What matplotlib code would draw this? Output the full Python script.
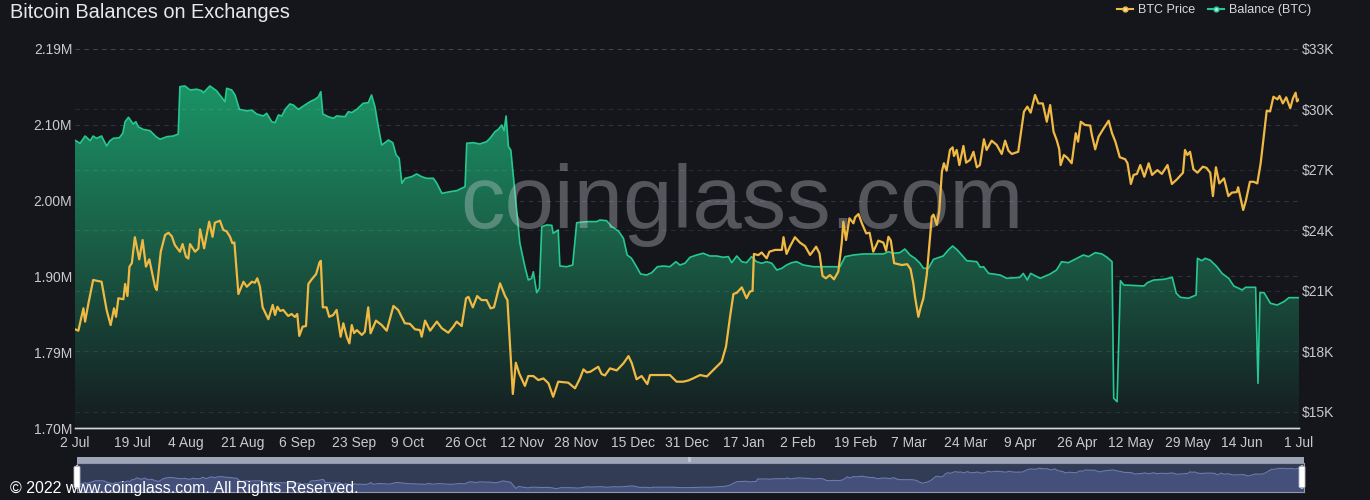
import matplotlib
matplotlib.use("Agg")
import matplotlib.pyplot as plt
import numpy as np
from matplotlib.colors import LinearSegmentedColormap
from matplotlib.lines import Line2D
from matplotlib.patches import Rectangle, FancyBboxPatch

plt.rcParams['font.family'] = ['Liberation Sans', 'DejaVu Sans']

# ---- data (day offsets from 2 Jul 2022) ----
start = np.datetime64('2022-07-02')
tick_dates = np.array(['2022-07-02', '2022-07-19', '2022-08-04', '2022-08-21', '2022-09-06',
                       '2022-09-23', '2022-10-09', '2022-10-26', '2022-11-12', '2022-11-28',
                       '2022-12-15', '2022-12-31', '2023-01-17', '2023-02-02', '2023-02-19',
                       '2023-03-07', '2023-03-24', '2023-04-09', '2023-04-26', '2023-05-12',
                       '2023-05-29', '2023-06-14', '2023-07-01'], dtype='datetime64[D]')
tick_labels = ['2 Jul', '19 Jul', '4 Aug', '21 Aug', '6 Sep', '23 Sep', '9 Oct', '26 Oct',
               '12 Nov', '28 Nov', '15 Dec', '31 Dec', '17 Jan', '2 Feb', '19 Feb', '7 Mar',
               '24 Mar', '9 Apr', '26 Apr', '12 May', '29 May', '14 Jun', '1 Jul']

bal_day = [0, 1.5, 3, 4.5, 5.4, 6.4, 7.9, 9.4, 10.4, 11.4, 13.2, 14.2, 14.9, 15.9, 17.3, 18.1,
           18.8, 20.3, 22.3, 24.1, 25.3, 27.3, 29.2, 30.7, 31.2, 32.7, 34.2, 36.2, 37.7, 38.2,
           40.1, 42.1, 44.6, 45.1, 46.6, 47.6, 48.9, 51.1, 52.6, 54.0, 56.0, 57.0, 58.5, 59.5,
           60.5, 61.5, 62.5, 63.9, 64.9, 66.4, 67.9, 69.9, 71.4, 72.4, 73.1, 73.7, 75.3, 76.8,
           77.8, 80.3, 81.3, 82.3, 83.8, 85.7, 87.2, 88.2, 89.2, 90.2, 91.2, 92.2, 93.2, 94.5,
           95.5, 96.4, 97.2, 98.2, 100.1, 101.6, 103.1, 104.6, 106.6, 107.6, 109.1, 111.5,
           113.5, 116.0, 116.5, 118.4, 120.4, 122.4, 123.4, 124.9, 125.9, 126.9, 127.6, 128.2,
           128.9, 129.6, 132.3, 133.8, 134.8, 135.8, 136.3, 137.3, 138.1, 138.8, 140.3, 141.8,
           142.2, 143.7, 144.2, 146.2, 148.0, 149.2, 152.2, 155.1, 156.1, 158.1, 159.6, 161.6,
           163.1, 164.2, 165.5, 167.0, 168.2, 170.0, 171.5, 173.2, 175.0, 176.9, 178.7, 179.9,
           181.4, 182.9, 184.9, 186.8, 188.8, 190.8, 192.8, 194.3, 195.3, 196.8, 198.3, 199.7,
           201.2, 202.7, 204.2, 205.7, 207.2, 208.7, 210.2, 211.6, 213.1, 214.6, 216.6, 219.6,
           224.5, 227.5, 229.0, 231.5, 234.4, 240.4, 241.9, 243.4, 245.3, 246.8, 248.3, 249.8,
           251.3, 252.3, 253.8, 255.3, 258.2, 259.7, 261.0, 262.4, 263.7, 265.2, 268.2, 269.2,
           270.2, 271.7, 273.1, 275.1, 277.1, 281.0, 282.0, 283.2, 284.2, 287.0, 290.0, 291.9,
           293.4, 295.4, 297.4, 298.9, 299.9, 301.4, 303.4, 305.4, 306.9, 308.4, 308.9, 309.9,
           310.9, 311.9, 317.9, 318.9, 320.8, 323.8, 326.3, 327.5, 328.7, 331.1, 333.4, 333.8,
           335.1, 336.1, 337.6, 339.6, 341.1, 343.1, 344.6, 346.1, 347.1, 348.1, 351.1, 351.8,
           352.4, 353.6, 355.5, 357.5, 359.5, 361.0, 364]
# balance in millions of BTC
bal_val = [2.072, 2.068, 2.0775, 2.0714, 2.0775, 2.0745, 2.0775, 2.0646, 2.0714, 2.0745, 2.0753,
           2.081, 2.096, 2.1017, 2.093, 2.096, 2.0895, 2.086, 2.0844, 2.0766, 2.0733, 2.0766,
           2.0775, 2.080, 2.1413, 2.1422, 2.137, 2.138, 2.136, 2.1335, 2.1422, 2.136, 2.1219,
           2.1392, 2.137, 2.1305, 2.112, 2.110, 2.111, 2.106, 2.1034, 2.1069, 2.096, 2.0947,
           2.1047, 2.1034, 2.112, 2.1189, 2.1176, 2.112, 2.1163, 2.1219, 2.125, 2.1283, 2.1348,
           2.106, 2.1025, 2.1004, 2.1034, 2.1025, 2.109, 2.1078, 2.112, 2.1198, 2.1206, 2.1305,
           2.1154, 2.0895, 2.0659, 2.0689, 2.0723, 2.0689, 2.053, 2.0487, 2.0164, 2.0228, 2.0249,
           2.0284, 2.0249, 2.0228, 2.0228, 2.0164, 2.0034, 2.0055, 2.0068, 2.012, 2.0681, 2.0689,
           2.0672, 2.0702, 2.0745, 2.0831, 2.0862, 2.0917, 2.0844, 2.1034, 2.0637, 2.0594, 1.9388,
           1.9085, 1.8913, 1.8935, 1.902, 1.8749, 1.8806, 1.9603, 1.9625, 1.962, 1.9517, 1.956,
           1.9094, 1.9085, 1.9107, 1.9654, 1.9668, 1.9668, 1.9689, 1.968, 1.9603, 1.9547, 1.9452,
           1.9237, 1.9194, 1.9085, 1.8991, 1.8978, 1.9008, 1.9085, 1.9094, 1.9085, 1.915, 1.9107,
           1.913, 1.9207, 1.9237, 1.9259, 1.9224, 1.9224, 1.9207, 1.9216, 1.9137, 1.9224, 1.915,
           1.9137, 1.9216, 1.915, 1.913, 1.915, 1.913, 1.9043, 1.9065, 1.9107, 1.9137, 1.915,
           1.9107, 1.9085, 1.9085, 1.9085, 1.9215, 1.9237, 1.925, 1.925, 1.9279, 1.9259, 1.9267,
           1.9314, 1.9237, 1.9194, 1.913, 1.9065, 1.9065, 1.9181, 1.9224, 1.9301, 1.9353, 1.9301,
           1.9237, 1.9163, 1.915, 1.9078, 1.9085, 1.8999, 1.8991, 1.8978, 1.8935, 1.8948, 1.8999,
           1.8913, 1.8999, 1.8935, 1.8991, 1.9043, 1.915, 1.9137, 1.9181, 1.9215, 1.9237, 1.9215,
           1.9267, 1.925, 1.9207, 1.915, 1.7384, 1.734, 1.8904, 1.8849, 1.8836, 1.8879, 1.8913,
           1.8922, 1.8948, 1.8742, 1.869, 1.8677, 1.8719, 1.9194, 1.9163, 1.9194, 1.917, 1.9085,
           1.8999, 1.8935, 1.8836, 1.8806, 1.8784, 1.8819, 1.8819, 1.7578, 1.875, 1.875, 1.8612,
           1.859, 1.8633, 1.8685, 1.8685]

price_day = [0, 1.0, 2.5, 3.0, 4.0, 5.4, 6.4, 7.9, 9.4, 10.6, 11.6, 12.2, 12.9, 14.4, 14.9, 15.6,
             16.2, 16.9, 17.8, 19.1, 20.1, 21.1, 22.1, 23.8, 24.3, 25.5, 26.8, 27.8, 28.8, 29.7,
             31.2, 32.0, 33.0, 33.7, 34.2, 35.7, 36.7, 37.2, 38.4, 39.9, 40.9, 41.6, 43.1, 44.1,
             45.1, 46.1, 46.8, 47.4, 48.6, 50.1, 51.1, 52.6, 53.5, 54.2, 55.0, 55.8, 57.5, 58.8,
             59.5, 60.2, 61.0, 61.9, 63.4, 64.4, 65.4, 66.1, 66.7, 67.7, 68.7, 69.4, 70.4, 71.7,
             72.7, 73.1, 73.7, 74.8, 75.6, 76.8, 77.8, 79.0, 79.8, 80.8, 81.6, 82.3, 83.0, 83.8,
             85.3, 86.2, 87.2, 87.9, 89.5, 91.2, 92.7, 94.7, 96.1, 98.1, 99.6, 101.1, 102.6,
             103.1, 104.1, 105.6, 107.6, 109.1, 111.0, 112.5, 113.5, 115.0, 116.3, 117.0, 118.3,
             119.6, 120.9, 122.4, 123.6, 124.6, 126.4, 127.9, 128.6, 130.2, 131.1, 132.1, 133.8,
             134.8, 136.3, 137.8, 139.3, 140.8, 142.2, 143.7, 146.7, 148.7, 150.2, 151.2, 152.2,
             153.2, 155.6, 156.6, 157.6, 159.1, 161.1, 163.1, 164.6, 165.6, 167.0, 168.5, 170.2,
             171.0, 176.9, 178.9, 180.9, 182.4, 183.9, 185.9, 187.9, 189.3, 190.8, 192.3, 193.6,
             194.8, 195.8, 196.8, 198.3, 199.7, 200.7, 201.5, 201.9, 203.2, 204.2, 205.7, 206.5,
             208.2, 210.2, 210.7, 211.6, 212.6, 214.1, 215.6, 217.1, 218.6, 219.6, 220.4, 221.4,
             222.3, 223.3, 224.5, 225.7, 227.0, 228.0, 228.5, 229.3, 230.3, 231.5, 232.0, 233.0,
             234.0, 235.3, 236.3, 237.4, 238.9, 240.4, 241.2, 241.9, 242.6, 243.6, 245.9, 247.5,
             248.5, 249.3, 249.8, 250.8, 251.5, 252.3, 253.3, 254.8, 255.3, 256.3, 257.0, 257.8,
             258.4, 259.2, 260.2, 261.0, 261.4, 262.2, 263.0, 264.2, 265.0, 266.2, 267.2, 268.2,
             269.1, 270.3, 271.1, 272.6, 274.1, 275.6, 276.6, 277.6, 278.6, 280.5, 282.2, 283.2,
             284.2, 285.5, 286.5, 287.8, 289.0, 290.0, 291.0, 292.0, 292.7, 293.1, 294.1, 295.1,
             296.4, 297.6, 298.3, 299.1, 300.4, 301.9, 302.4, 303.4, 304.4, 305.9, 307.4, 308.4,
             309.4, 310.7, 312.3, 313.0, 314.0, 314.8, 315.8, 316.8, 318.0, 319.3, 320.3, 321.9,
             323.2, 324.9, 326.2, 327.7, 329.5, 330.1, 330.8, 331.6, 332.6, 333.8, 335.4, 336.5,
             337.6, 338.4, 339.3, 340.3, 341.7, 343.0, 344.0, 345.5, 345.9, 347.4, 348.2, 349.4,
             350.5, 351.6, 352.6, 354.4, 355.4, 356.4, 357.6, 358.2, 359.2, 360.2, 361.4, 362.2,
             363.0, 363.4, 364.0]
# BTC price in thousands of USD
price_val = [19.09, 19.02, 20.13, 19.47, 20.38, 21.54, 21.5, 21.45, 20.05, 19.30, 20.13, 19.71,
             20.63, 20.58, 21.34, 20.74, 22.20, 22.37, 23.66, 22.56, 23.52, 22.20, 22.56, 21.20,
             21.04, 22.94, 23.77, 23.88, 23.7, 23.27, 22.94, 23.32, 22.69, 22.6, 23.32, 22.94,
             23.1, 24.05, 23.11, 24.43, 23.68, 24.38, 24.48, 24.02, 23.95, 23.68, 23.36, 23.4,
             20.84, 21.45, 21.20, 21.45, 21.4, 21.62, 21.2, 20.18, 19.59, 20.30, 19.80, 20.21,
             20.0, 20.05, 19.75, 19.85, 19.70, 19.85, 18.76, 19.22, 19.25, 21.34, 21.57, 21.83,
             22.40, 22.49, 20.18, 20.18, 19.71, 19.8, 20.05, 18.72, 19.39, 18.72, 18.39, 19.30,
             18.9, 19.05, 18.81, 18.97, 20.18, 18.89, 19.52, 19.30, 19.02, 20.25, 20.05, 19.39,
             19.36, 19.09, 19.05, 18.72, 19.52, 19.02, 19.47, 19.14, 18.92, 19.22, 19.47, 19.25,
             20.63, 20.7, 20.18, 20.74, 20.54, 20.54, 20.13, 20.18, 21.37, 20.74, 20.54, 15.88,
             17.43, 16.90, 16.28, 16.77, 16.77, 16.57, 16.65, 16.41, 15.74, 16.49, 16.44, 16.16,
             16.66, 17.10, 16.95, 16.98, 17.23, 16.87, 16.8, 17.15, 17.05, 17.40, 17.76, 17.4,
             16.61, 16.77, 16.37, 16.82, 16.82, 16.49, 16.49, 16.55, 16.66, 16.82, 16.75, 16.98,
             17.23, 17.48, 18.23, 19.71, 20.84, 20.9, 21.17, 20.63, 20.96, 21.0, 22.83, 22.77,
             22.9, 22.61, 22.94, 23.03, 23.03, 23.66, 22.83, 23.19, 23.66, 23.39, 23.22, 22.78,
             23.0, 23.19, 22.86, 21.74, 21.62, 21.78, 21.57, 21.95, 23.36, 24.43, 23.52, 24.60,
             24.35, 24.65, 24.81, 24.35, 23.85, 23.88, 22.94, 23.49, 23.39, 22.99, 23.68, 23.5,
             22.37, 22.28, 22.32, 22.07, 21.37, 20.71, 19.71, 20.18, 20.63, 21.78, 24.68, 24.78,
             24.27, 24.93, 26.91, 27.33, 26.96, 27.99, 28.12, 27.69, 27.99, 27.24, 28.19, 27.36,
             27.5, 27.90, 27.13, 27.24, 28.52, 27.99, 28.45, 28.24, 27.79, 28.45, 27.95, 27.79,
             27.90, 29.89, 30.14, 29.84, 30.72, 30.30, 30.30, 29.39, 30.22, 28.90, 28.45, 28.02,
             27.24, 27.74, 27.6, 27.33, 28.82, 28.40, 29.39, 29.23, 29.2, 28.73, 28.02, 28.65,
             29.06, 29.44, 28.82, 28.40, 27.63, 27.53, 27.33, 26.30, 26.75, 26.8, 27.24, 26.66,
             27.33, 26.75, 26.99, 26.8, 27.24, 26.30, 26.53, 26.86, 27.99, 27.74, 27.9, 27.03,
             26.86, 27.16, 27.1, 26.86, 25.70, 27.13, 26.33, 26.58, 25.70, 25.87, 25.9, 26.14,
             25.01, 25.47, 26.41, 26.41, 26.33, 27.33, 29.94, 29.9, 30.63, 30.5, 30.67, 30.30,
             30.60, 30.06, 30.55, 30.83, 30.4, 30.50]

left_ticks = np.linspace(1.70, 2.19, 6)
left_labels = ['1.70M', '1.79M', '1.90M', '2.00M', '2.10M', '2.19M']
right_ticks = [15, 18, 21, 24, 27, 30, 33]

BG = '#15161c'
GREEN = '#25c98f'
YELLOW = '#f0b943'
TXT = '#c9c9ce'

W, H = 1370, 500
fig = plt.figure(figsize=(W / 100, H / 100), dpi=100, facecolor=BG)

ax1 = fig.add_axes([75 / W, 1 - 428 / H, 1224 / W, 379 / H])
ax1.set_facecolor(BG)
ax2 = ax1.twinx()

x_end = float((tick_dates[-1] - start).astype(int))
tick_pos = (tick_dates - start).astype(int)

# balance: gradient area
bd = np.array(bal_day)
bv = np.array(bal_val)
poly = ax1.fill_between(bd, bv, 1.70, color='none', lw=0)
cmap = LinearSegmentedColormap.from_list('g', ['#151b1f', '#1a5a44', '#1b9467'])
grad = np.linspace(0, 1, 256).reshape(-1, 1)
img = ax1.imshow(grad, extent=[0, x_end, 1.70, 2.145], origin='lower', aspect='auto',
                 cmap=cmap, zorder=1)
img.set_clip_path(poly.get_paths()[0], transform=ax1.transData)
ax1.plot(bd, bv, color=GREEN, lw=1.2, zorder=2)

ax1.set_xlim(0, x_end)
ax1.set_ylim(1.70, 2.19)
ax1.set_yticks(left_ticks)
ax1.set_yticklabels(left_labels)
ax1.set_xticks(tick_pos)
ax1.set_xticklabels(tick_labels)
ax1.set_axisbelow(True)
ax1.grid(axis='y', color='#32333a', lw=0.8, linestyle=(0, (4, 4)))
ax1.tick_params(axis='both', length=0, colors=TXT, labelsize=10)
ax1.tick_params(axis='x', pad=6)
ax1.tick_params(axis='y', pad=2)

# price line
ax2.plot(price_day, price_val, color=YELLOW, lw=1.6, zorder=3)
ax2.set_ylim(15 - 16.3 / 20.15, 33)
ax2.set_yticks(right_ticks)
ax2.set_yticklabels([f'${t}K' for t in right_ticks])
ax2.tick_params(axis='y', length=0, colors=TXT, labelsize=10, pad=2)
ax2.grid(axis='y', color='white', alpha=0.09, lw=0.8, linestyle=(0, (4, 4)))

for a in (ax1, ax2):
    for s in ('left', 'right', 'top'):
        a.spines[s].set_visible(False)
    a.spines['bottom'].set_color('#d6d6d6')
    a.spines['bottom'].set_linewidth(1)

# watermark between the area and the price line
ax2.text(742 / W, 1 - 205 / H, 'coinglass.com', transform=fig.transFigure, ha='center',
         va='center', fontsize=64, color='#d8d8e0', alpha=0.33, zorder=1)

# title & legend
fig.text(10 / W, 1 - 12 / H, 'Bitcoin Balances on Exchanges', fontsize=14.4, color='#e8e8ea',
         va='center', ha='left')
handles = [Line2D([], [], color=YELLOW, lw=1.5, marker='o', markersize=3.5,
                  markerfacecolor='#f8dc9c', markeredgecolor=YELLOW),
           Line2D([], [], color=GREEN, lw=1.5, marker='o', markersize=3.5,
                  markerfacecolor='#a6ecd2', markeredgecolor=GREEN)]
fig.legend(handles, ['BTC Price', 'Balance (BTC)'], loc='center right',
           bbox_to_anchor=(1311 / W, 1 - 10 / H), ncol=2, frameon=False, fontsize=9,
           labelcolor='#d8d8dc', handlelength=1.3, handletextpad=0.4, columnspacing=1.0,
           borderaxespad=0, borderpad=0)

# data zoom slider
sx0, sx1 = 77, 1304
fig.patches.append(Rectangle((sx0 / W, 1 - 463 / H), (sx1 - sx0) / W, 6 / H,
                             transform=fig.transFigure, facecolor='#9ea5b7', edgecolor='none'))
axs = fig.add_axes([sx0 / W, 1 - 492 / H, (sx1 - sx0) / W, 29 / H])
axs.set_facecolor('#333c55')
axs.fill_between(price_day, price_val, 10, color='#44507a', lw=0)
axs.plot(price_day, price_val, color='#6a7cae', lw=0.8)
axs.set_xlim(0, x_end)
axs.set_ylim(13.3, 34.5)
axs.set_xticks([])
axs.set_yticks([])
for s in axs.spines.values():
    s.set_color('#8f98ad')
    s.set_linewidth(0.8)
for hx in (sx0, sx1 - 2):
    fig.patches.append(FancyBboxPatch(((hx - 3) / W, 1 - 488 / H), 6 / W, 22 / H,
                                      boxstyle='round,pad=0,rounding_size=0.003',
                                      transform=fig.transFigure, facecolor='white',
                                      edgecolor='#b0b6c4', lw=0.6))
fig.text(690 / W, 1 - 460 / H, '|||', fontsize=4, color='#e0e3ea', ha='center', va='center')

fig.text(10 / W, 1 - 488 / H, '\u00a9 2022 www.coinglass.com. All Rights Reserved.',
         fontsize=11.5, color='white', ha='left', va='center')

fig.savefig('out.png', dpi=100, facecolor=BG)
